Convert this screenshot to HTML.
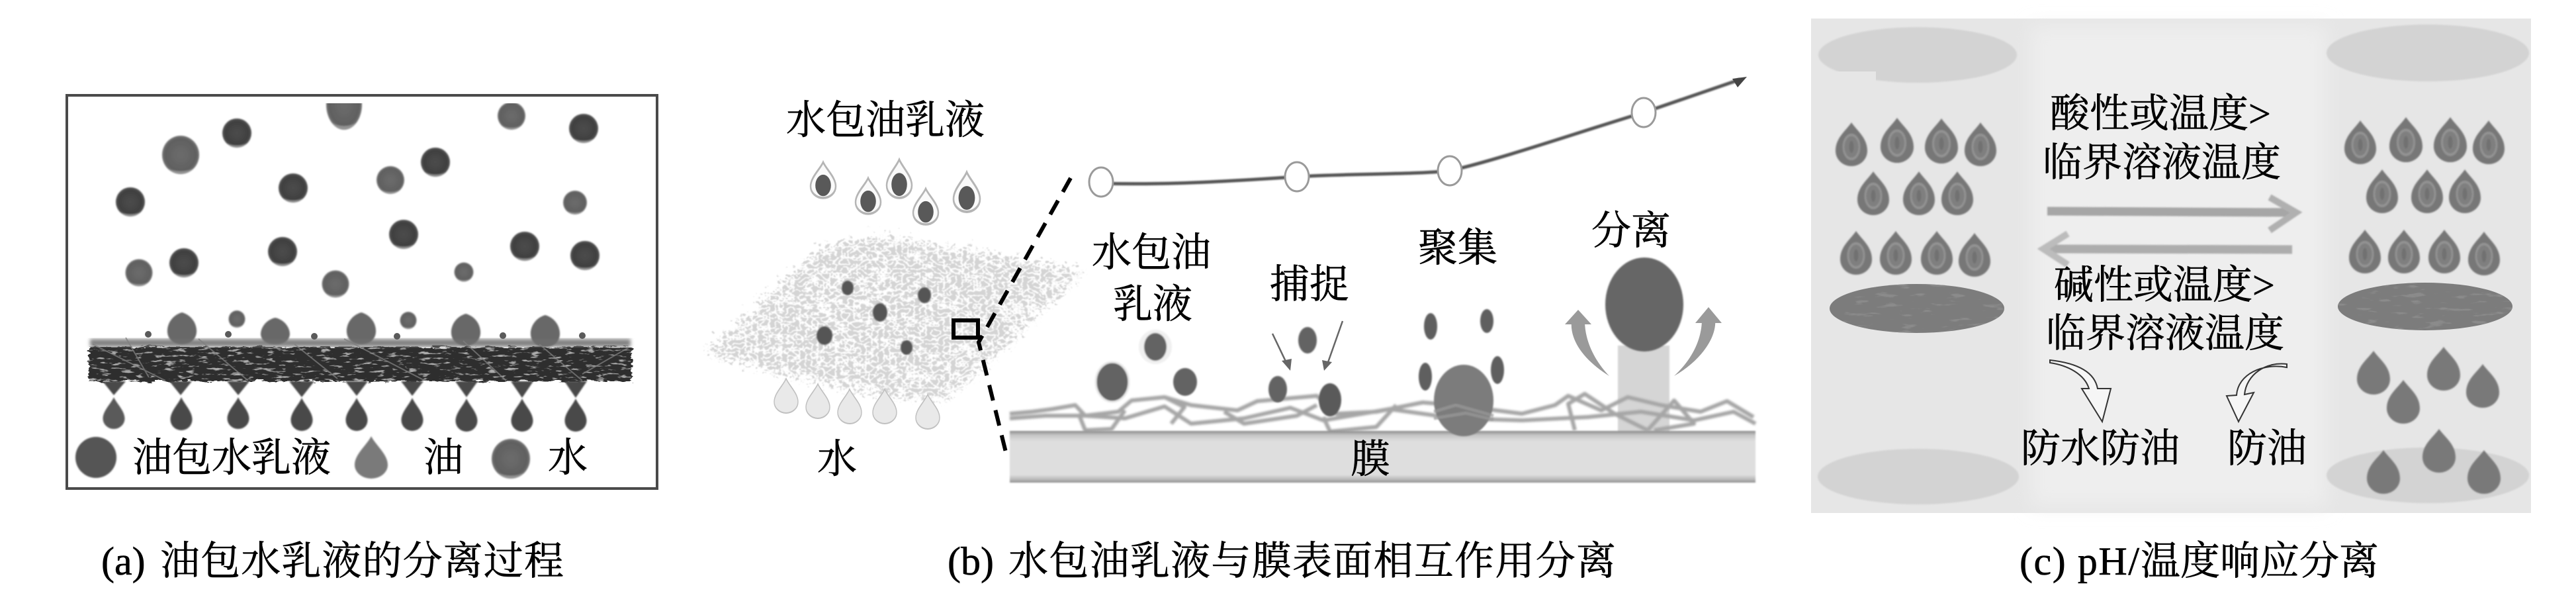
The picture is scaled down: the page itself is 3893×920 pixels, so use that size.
<!DOCTYPE html>
<html><head><meta charset="utf-8"><style>
html,body{margin:0;padding:0;background:#fff;width:3893px;height:920px;overflow:hidden}
svg{display:block}
text{font-family:"Liberation Serif","Noto Serif CJK SC",serif;font-size:60px;fill:#000;stroke:#000;stroke-width:.6}
</style></head><body>
<svg xmlns="http://www.w3.org/2000/svg" width="3893" height="920" viewBox="0 0 3893 920">
<defs>
<filter id="b1"><feGaussianBlur stdDeviation="1"/></filter>
<filter id="b2"><feGaussianBlur stdDeviation="1.6"/></filter>
<filter id="b3"><feGaussianBlur stdDeviation="3"/></filter>
<filter id="b6"><feGaussianBlur stdDeviation="14"/></filter>
<filter id="mesh" x="-8%" y="-8%" width="116%" height="116%">
<feTurbulence type="turbulence" baseFrequency="0.11 0.15" numOctaves="2" seed="4" result="t"/>
<feDisplacementMap in="SourceGraphic" in2="t" scale="46" xChannelSelector="R" yChannelSelector="G" result="d"/>
<feColorMatrix in="t" type="matrix" values="0 0 0 0 1  0 0 0 0 1  0 0 0 0 1  0 0 0 -7 1.9" result="w"/>
<feComposite in="w" in2="d" operator="in" result="wc"/>
<feMerge><feMergeNode in="d"/><feMergeNode in="wc"/></feMerge>
<feGaussianBlur stdDeviation=".7"/>
</filter>
<filter id="dark" x="-2%" y="-20%" width="104%" height="140%">
<feTurbulence type="fractalNoise" baseFrequency="0.06 0.25" numOctaves="3" seed="7" result="t"/>
<feDisplacementMap in="SourceGraphic" in2="t" scale="10" xChannelSelector="R" yChannelSelector="G" result="d"/>
<feColorMatrix in="t" type="matrix" values="0 0 0 0 .42  0 0 0 0 .42  0 0 0 0 .42  0 0 0 6 -3.6" result="w"/>
<feComposite in="w" in2="d" operator="in" result="wc"/>
<feMerge><feMergeNode in="d"/><feMergeNode in="wc"/></feMerge>
</filter>
<filter id="disc" x="0" y="0" width="100%" height="100%">
<feTurbulence type="fractalNoise" baseFrequency="0.03 0.14" numOctaves="3" seed="11" result="t"/>
<feColorMatrix in="t" type="matrix" values="0 0 0 0 .26  0 0 0 0 .26  0 0 0 0 .26  0 0 0 7 -4.2" result="w"/>
<feComposite in="w" in2="SourceAlpha" operator="in" result="wc"/>
<feMerge><feMergeNode in="SourceGraphic"/><feMergeNode in="wc"/></feMerge>
</filter>
<linearGradient id="mem" x1="0" y1="0" x2="0" y2="1">
<stop offset="0" stop-color="#888"/><stop offset=".08" stop-color="#c4c4c4"/><stop offset=".2" stop-color="#dedede"/><stop offset=".85" stop-color="#dedede"/><stop offset=".95" stop-color="#b4b4b4"/><stop offset="1" stop-color="#8a8a8a"/>
</linearGradient>
<radialGradient id="gd"><stop offset="0" stop-color="#4c4c4c"/><stop offset=".8" stop-color="#404040"/><stop offset="1" stop-color="#555"/></radialGradient>
<radialGradient id="gm"><stop offset="0" stop-color="#6c6c6c"/><stop offset=".85" stop-color="#606060"/><stop offset="1" stop-color="#777"/></radialGradient>
<path id="drop" d="M0,-1 C.25,-.6 1,-.15 1,.35 A1,.65 0 0 1 -1,.35 C-1,-.15 -.25,-.6 0,-1Z"/>
<path id="drop2" d="M0,-1 C.35,-.62 1,-.3 1,.3 A1,.7 0 0 1 -1,.3 C-1,-.3 -.35,-.62 0,-1Z"/>
<g id="cd"><circle r="1" fill="url(#gd)"/><path d="M-.7,.71 A1,1 0 0 0 .7,.71 A1,.5 0 0 1 -.7,.71Z" fill="#8f8f8f"/></g>
<g id="cm"><circle r="1" fill="url(#gm)"/><path d="M-.7,.71 A1,1 0 0 0 .7,.71 A1,.5 0 0 1 -.7,.71Z" fill="#939393"/></g>
<g id="wo"><use href="#drop" fill="#fafafa" stroke="#b5b5b5" stroke-width=".13"/><ellipse cx="0" cy=".3" rx=".62" ry=".6" fill="#595959"/></g>
<g id="wd"><use href="#drop" fill="#e9e9e9" stroke="#c0c0c0" stroke-width=".08"/></g>
<g id="rd"><use href="#drop2" fill="#777"/><ellipse cx="0" cy=".12" rx=".5" ry=".55" fill="#7f7f7f" stroke="#939393" stroke-width=".12"/><ellipse cx="0" cy=".12" rx=".14" ry=".28" fill="#717171"/></g>
<clipPath id="cp-a"><rect x="100" y="156" width="895" height="580"/></clipPath>
</defs>

<!-- Panel (a) -->
<rect x="101" y="144" width="892" height="594" fill="#fff" stroke="#4a4a4a" stroke-width="4"/>
<g clip-path="url(#cp-a)" filter="url(#b1)">
<use href="#cm" transform="translate(273,234) scale(28,29)"/>
<use href="#cd" transform="translate(358,201) scale(22,22)"/>
<use href="#cm" transform="translate(520,158) scale(27,38)"/>
<use href="#cm" transform="translate(773,175) scale(21,21)"/>
<use href="#cd" transform="translate(882,194) scale(22,22)"/>
<use href="#cd" transform="translate(658,245) scale(22,22)"/>
<use href="#cm" transform="translate(590,272) scale(21,21)"/>
<use href="#cd" transform="translate(443,284) scale(22,22)"/>
<use href="#cd" transform="translate(197,305) scale(22,22)"/>
<use href="#cm" transform="translate(869,306) scale(18,18)"/>
<use href="#cd" transform="translate(610,354) scale(22,22)"/>
<use href="#cd" transform="translate(793,372) scale(22,22)"/>
<use href="#cd" transform="translate(884,386) scale(22,22)"/>
<use href="#cd" transform="translate(427,380) scale(22,22)"/>
<use href="#cd" transform="translate(278,397) scale(22,22)"/>
<use href="#cm" transform="translate(210,412) scale(20.5,20.5)"/>
<use href="#cm" transform="translate(507,429) scale(20.5,20.5)"/>
<use href="#cm" transform="translate(701,411) scale(14.5,14.5)"/>
<use href="#cm" transform="translate(358,482) scale(12.5,13)"/>
<use href="#cm" transform="translate(617,484) scale(12.5,13)"/>
<g fill="#686868">
<path d="M275,472 C290,476 298,490 297,502 C296,515 285,520 275,520 C265,520 254,515 253,502 C252,490 260,476 275,472Z"/>
<path d="M416,480 C430,483 438,495 438,505 C437,517 426,520 416,520 C406,520 395,517 394,505 C394,495 402,483 416,480Z"/>
<path d="M546,472 C561,476 569,490 568,502 C567,515 556,520 546,520 C536,520 525,515 524,502 C523,490 531,476 546,472Z"/>
<path d="M704,474 C719,478 727,492 726,504 C725,517 714,522 704,522 C694,522 683,517 682,504 C681,492 689,478 704,474Z"/>
<path d="M824,476 C839,480 847,494 846,506 C845,519 834,524 824,524 C814,524 803,519 802,506 C801,494 809,480 824,476Z"/>
</g>
</g>
<!-- membrane a -->
<rect x="134" y="524" width="821" height="52" fill="#2f2f2f" filter="url(#dark)"/>
<rect x="136" y="512" width="817" height="12" fill="#6e6e6e" filter="url(#b3)" opacity=".85"/>
<g fill="none" stroke="#7f7f7f" stroke-width="2" opacity=".75">
<path d="M140,520 L250,575 M190,510 L225,570 M300,512 L375,575 M445,520 L510,572 M520,512 L640,574 M700,515 L765,575 M815,520 L880,575 M950,525 L880,565"/>
</g>
<g fill="#5a5a5a">
<circle cx="224" cy="505" r="5"/><circle cx="345" cy="505" r="5"/><circle cx="475" cy="508" r="5"/><circle cx="600" cy="508" r="5"/><circle cx="760" cy="507" r="5"/><circle cx="880" cy="507" r="5"/>
</g>
<g fill="#4a4a4a" filter="url(#b1)">
<path d="M155,576 H190 L172,597Z M256,576 H290 L273,597Z M343,576 H377 L360,597Z M437,576 H475 L456,600Z M522,576 H556 L539,598Z M606,576 H640 L623,598Z M688,576 H722 L705,600Z M772,576 H806 L789,601Z M853,576 H887 L870,601Z"/>
<use href="#drop" fill="#5a5a5a" transform="translate(172,624) scale(16.5,24)"/>
<use href="#drop" transform="translate(274,625) scale(16.5,25)"/>
<use href="#drop" transform="translate(360,624) scale(16.5,24)"/>
<use href="#drop" transform="translate(456,626) scale(16.5,25)"/>
<use href="#drop" transform="translate(539,626) scale(16.5,25)"/>
<use href="#drop" transform="translate(623,626) scale(16.5,25)"/>
<use href="#drop" transform="translate(705,627) scale(16.5,25)"/>
<use href="#drop" transform="translate(789,627) scale(16.5,25)"/>
<use href="#drop" transform="translate(870,627) scale(16.5,25)"/>
</g>
<!-- legend a -->
<g filter="url(#b1)">
<circle cx="145" cy="691" r="31" fill="#555"/>
<use href="#drop" fill="#7a7a7a" transform="translate(561,691) scale(25,32)"/>
<use href="#cm" transform="translate(772,693) scale(29,30)"/>
</g>
<text x="200" y="712">油包水乳液</text>
<text x="640" y="712">油</text>
<text x="828" y="712">水</text>
<text x="153" y="868">(a) </text>
<text x="242" y="868" textLength="610">油包水乳液的分离过程</text>

<!-- Panel (b) -->
<text x="1188" y="202">水包油乳液</text>
<use href="#wo" transform="translate(1244,272) scale(19,27)"/>
<use href="#wo" transform="translate(1312,296) scale(19,27)"/>
<use href="#wo" transform="translate(1359,270) scale(19,29)"/>
<use href="#wo" transform="translate(1399,312) scale(19,27)"/>
<use href="#wo" transform="translate(1461,290) scale(20,30)"/>
<polygon points="1060,522 1145,440 1230,364 1320,345 1625,398 1555,465 1495,525 1415,595 1275,578 1155,550" fill="#d4d4d4" filter="url(#mesh)"/>
<g fill="#555" filter="url(#b1)">
<ellipse cx="1281" cy="435" rx="9" ry="11"/>
<ellipse cx="1397" cy="446" rx="10" ry="12"/>
<ellipse cx="1330" cy="472" rx="11" ry="14"/>
<ellipse cx="1246" cy="507" rx="12" ry="14"/>
<ellipse cx="1370" cy="525" rx="9" ry="11"/>
</g>
<rect x="1441" y="484" width="37" height="26" fill="none" stroke="#000" stroke-width="6"/>
<use href="#wd" transform="translate(1188,598) scale(18,26)"/>
<use href="#wd" transform="translate(1236,606) scale(18,26)"/>
<use href="#wd" transform="translate(1284,614) scale(18,26)"/>
<use href="#wd" transform="translate(1337,614) scale(18,26)"/>
<use href="#wd" transform="translate(1402,622) scale(18,26)"/>
<text x="1235" y="714">水</text>
<path d="M1618,269 L1479,517 L1523,695" fill="none" stroke="#000" stroke-width="6" stroke-dasharray="24 15"/>
<path d="M1664,277 C1780,280 1880,272 1960,267 C2040,262 2130,264 2191,258 C2270,240 2400,195 2484,170 L2630,120" fill="none" stroke="#555" stroke-width="5" filter="url(#b1)"/>
<path d="M2640,116 L2618,119 L2626,132Z" fill="#444"/>
<g fill="#fff" stroke="#9a9a9a" stroke-width="3">
<ellipse cx="1664" cy="275" rx="18" ry="22"/>
<ellipse cx="1960" cy="267" rx="18" ry="22"/>
<ellipse cx="2191" cy="258" rx="18" ry="22"/>
<ellipse cx="2484" cy="170" rx="18" ry="22"/>
</g>
<text x="1650" y="402">水包油</text>
<text x="1682" y="480">乳液</text>
<text x="1919" y="450">捕捉</text>
<text x="2143" y="395">聚集</text>
<text x="2405" y="369">分离</text>
<!-- light column -->
<rect x="2445" y="522" width="78" height="132" fill="#d5d5d5" filter="url(#b1)"/>
<!-- fibres -->
<g fill="none" stroke="#a6a6a6" stroke-width="6" stroke-linejoin="round" filter="url(#b2)">
<path d="M1526,625 L1560,622 L1590,618 L1625,612 L1640,628 L1690,622 L1710,605 L1760,600 L1800,612 L1870,620 L1900,606 L1990,598 L2020,625 L2080,622 L2150,608 L2200,612 L2300,625 L2350,612 L2370,598 L2420,620 L2460,600 L2510,612 L2570,622 L2610,606 L2650,630"/>
<path d="M1526,632 L1580,628 L1640,628 L1700,632 L1760,614 L1800,640 L1880,632 L1950,616 L2000,635 L2100,618 L2200,632 L2300,635 L2400,630 L2480,622 L2560,635 L2620,622 L2653,640"/>
<path d="M1630,625 L1640,650 L1680,648 L1700,620 M1760,600 L1790,615 L1770,640 M1850,622 L1880,640 L1960,628 L1990,612 M2000,630 L2010,652 L2080,645 L2110,612 M2380,650 L2370,610 L2395,595 L2440,625 L2490,650 M2490,650 L2530,605 L2560,640 L2500,650"/>
</g>
<g filter="url(#b1)">
<ellipse cx="1746" cy="524" rx="25" ry="26" fill="#f0f0f0"/><ellipse cx="1746" cy="524" rx="17" ry="21" fill="#636363"/>
<ellipse cx="1681" cy="577" rx="25" ry="30" fill="#636363" stroke="#e8e8e8" stroke-width="3"/>
<ellipse cx="1791" cy="577" rx="18" ry="21" fill="#636363"/>
<ellipse cx="1976" cy="514" rx="14" ry="20" fill="#636363"/>
<ellipse cx="1931" cy="588" rx="14" ry="20" fill="#636363"/>
<ellipse cx="2010" cy="604" rx="17" ry="25" fill="#5a5a5a"/>
<ellipse cx="2162" cy="493" rx="10" ry="20" fill="#5f5f5f"/>
<ellipse cx="2247" cy="485" rx="10" ry="18" fill="#5f5f5f"/>
<ellipse cx="2263" cy="559" rx="10" ry="21" fill="#5f5f5f"/>
<ellipse cx="2154" cy="569" rx="10" ry="21" fill="#5f5f5f"/>
<ellipse cx="2485" cy="460" rx="59" ry="71" fill="#666"/>
</g>
<path d="M1923,504 L1945,550 M2029,485 L2006,550" stroke="#666" stroke-width="2.5" fill="none"/>
<path d="M1950,560 L1937,545 L1952,542Z M2001,560 L1998,544 L2013,547Z" fill="#666"/>
<g fill="#9a9a9a">
<path d="M2432,568 C2395,545 2372,515 2375,485 L2395,485 C2395,515 2410,545 2432,568Z"/>
<path d="M2385,468 L2365,490 L2405,490Z"/>
<path d="M2530,568 C2570,545 2595,510 2592,482 L2572,482 C2572,515 2555,545 2530,568Z"/>
<path d="M2582,464 L2562,488 L2602,488Z"/>
</g>
<rect x="1526" y="651" width="1127" height="78" fill="url(#mem)" filter="url(#b1)"/>
<ellipse cx="2212" cy="605" rx="45" ry="54" fill="#7b7b7b" filter="url(#b1)"/>
<path d="M2167,622 L2200,612 L2257,628 M2167,632 L2215,624 L2257,634" stroke="#9a9a9a" stroke-width="5" fill="none" opacity=".7" filter="url(#b1)"/>
<text x="2041" y="714">膜</text>
<text x="1432" y="868">(b) </text>
<text x="1524" y="868" textLength="918">水包油乳液与膜表面相互作用分离</text>

<!-- Panel (c) -->
<rect x="2737" y="28" width="1088" height="747" fill="#e6e6e6"/>
<rect x="3070" y="40" width="445" height="725" fill="#eeeeee" filter="url(#b6)"/>
<g fill="#d3d3d3" filter="url(#b1)">
<ellipse cx="2898" cy="83" rx="150" ry="42"/>
<ellipse cx="3669" cy="80" rx="153" ry="43"/>
<ellipse cx="2899" cy="720" rx="152" ry="42"/>
<ellipse cx="3669" cy="718" rx="153" ry="42"/>
</g>
<rect x="2745" y="108" width="90" height="20" fill="#e6e6e6"/>
<g filter="url(#b1)">
<use href="#rd" transform="translate(2798,218) scale(24,33)"/>
<use href="#rd" transform="translate(2867,212) scale(25,34)"/>
<use href="#rd" transform="translate(2934,213) scale(25,34)"/>
<use href="#rd" transform="translate(2993,218) scale(24,33)"/>
<use href="#rd" transform="translate(2831,292) scale(24,33)"/>
<use href="#rd" transform="translate(2900,292) scale(24,33)"/>
<use href="#rd" transform="translate(2958,292) scale(24,33)"/>
<use href="#rd" transform="translate(2805,382) scale(24,33)"/>
<use href="#rd" transform="translate(2865,382) scale(24,33)"/>
<use href="#rd" transform="translate(2927,382) scale(24,33)"/>
<use href="#rd" transform="translate(2984,385) scale(24,33)"/>
<use href="#rd" transform="translate(3567,215) scale(24,33)"/>
<use href="#rd" transform="translate(3636,211) scale(25,34)"/>
<use href="#rd" transform="translate(3703,211) scale(25,34)"/>
<use href="#rd" transform="translate(3761,215) scale(24,33)"/>
<use href="#rd" transform="translate(3600,289) scale(24,33)"/>
<use href="#rd" transform="translate(3668,289) scale(24,33)"/>
<use href="#rd" transform="translate(3725,289) scale(24,33)"/>
<use href="#rd" transform="translate(3574,380) scale(24,33)"/>
<use href="#rd" transform="translate(3633,380) scale(24,33)"/>
<use href="#rd" transform="translate(3694,380) scale(24,33)"/>
<use href="#rd" transform="translate(3754,383) scale(24,33)"/>
</g>
<ellipse cx="2897" cy="466" rx="132" ry="37" fill="#7c7c7c" filter="url(#disc)"/>
<ellipse cx="3665" cy="463" rx="132" ry="36" fill="#7c7c7c" filter="url(#disc)"/>
<g fill="#797979" filter="url(#b1)">
<use href="#drop2" transform="translate(3587,563) scale(25,33)"/>
<use href="#drop2" transform="translate(3693,557) scale(25,33)"/>
<use href="#drop2" transform="translate(3752,583) scale(25,33)"/>
<use href="#drop2" transform="translate(3632,607) scale(25,33)"/>
<use href="#drop2" transform="translate(3686,681) scale(25,33)"/>
<use href="#drop2" transform="translate(3602,713) scale(25,33)"/>
<use href="#drop2" transform="translate(3754,713) scale(25,33)"/>
</g>
<text x="3098" y="192">酸性或温度&gt;</text>
<text x="3087" y="266">临界溶液温度</text>
<g filter="url(#b1)" fill="none">
<path d="M3094,319 L3465,321" stroke="#a6a6a6" stroke-width="13"/>
<path d="M3430,298 L3470,321 L3430,348" stroke="#b0b0b0" stroke-width="10"/>
<path d="M3464,377 L3095,376" stroke="#adadad" stroke-width="13"/>
<path d="M3125,353 L3088,376 L3125,400" stroke="#bcbcbc" stroke-width="10"/>
</g>
<text x="3104" y="451">碱性或温度&gt;</text>
<text x="3092" y="524">临界溶液温度</text>
<path d="M3098,544 C3135,548 3165,560 3170,587 L3190,587 L3177,637 L3146,587 L3157,587 C3150,565 3125,552 3098,548Z" fill="#f6f6f6" stroke="#333" stroke-width="2"/>
<path d="M3456,550 C3425,546 3395,565 3392,596 L3406,593 L3383,637 L3365,598 L3380,597 C3382,565 3420,548 3456,555Z" fill="#f6f6f6" stroke="#333" stroke-width="2"/>
<text x="3054" y="698">防水防油</text>
<text x="3366" y="698">防油</text>
<text x="3052" y="868" textLength="181">(c) pH/</text>
<text x="3235" y="868">温度响应分离</text>
</svg>
</body></html>
